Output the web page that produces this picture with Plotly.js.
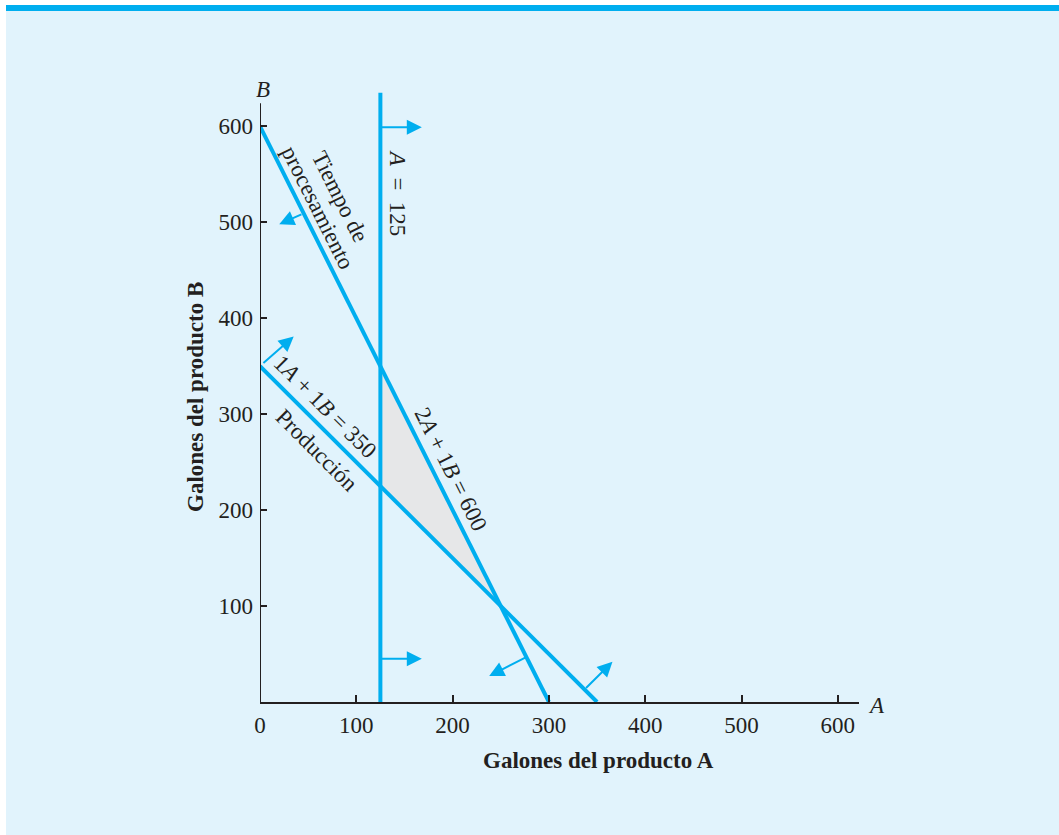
<!DOCTYPE html>
<html>
<head>
<meta charset="utf-8">
<script src="https://cdn.plot.ly/plotly-3.0.1.min.js"></script>
<style>
  html, body { margin: 0; padding: 0; background: #ffffff; }
  #chart { width: 1059px; height: 835px; }
</style>
</head>
<body>
<div id="chart"></div>
<script>
// ---- Data ----
// Processing-time constraint: 2A + 1B = 600
const procCoef = [2, 1];
const procRHS = 600;
// Production constraint: 1A + 1B = 350
const prodCoef = [1, 1];
const prodRHS = 350;
// Minimum of product A: A = 125
const minA = 125;
const minALineTop = 635;

// Constraint direction arrows (tail -> head), in data units
const arrowTailX = [125, 125, 44.6, 277, 2, 337];
const arrowTailY = [599, 45, 509, 47, 352, 13];
const arrowHeadX = [168, 168, 20, 238, 35, 366];
const arrowHeadY = [599, 45, 498, 27, 381, 42];

// Tick labels
const xTicks = [0, 100, 200, 300, 400, 500, 600];
const yTicks = [100, 200, 300, 400, 500, 600];

// ---- Derived geometry ----
function intercepts(coef, rhs) {
  return { x: [0, rhs / coef[0]], y: [rhs / coef[1], 0] };
}
const procLine = intercepts(procCoef, procRHS);
const prodLine = intercepts(prodCoef, prodRHS);

// feasible region vertices
const vTopB = (procRHS - procCoef[0] * minA) / procCoef[1];
const vBotB = (prodRHS - prodCoef[0] * minA) / prodCoef[1];
const det = procCoef[0] * prodCoef[1] - procCoef[1] * prodCoef[0];
const interA = (procRHS * prodCoef[1] - procCoef[1] * prodRHS) / det;
const interB = (procCoef[0] * prodRHS - prodCoef[0] * procRHS) / det;

const lineColor = '#00AEEF';
const serif = 'Liberation Serif, Times New Roman, serif';
const textColor = '#231F20';

const traces = [
  {
    x: [minA, interA, minA, minA],
    y: [vTopB, interB, vBotB, vTopB],
    mode: 'lines', fill: 'toself', fillcolor: '#E6E7E8',
    line: { width: 0, color: 'rgba(0,0,0,0)' }, hoverinfo: 'skip'
  },
  { x: procLine.x, y: procLine.y, mode: 'lines', line: { color: lineColor, width: 4 } },
  { x: prodLine.x, y: prodLine.y, mode: 'lines', line: { color: lineColor, width: 4 } },
  { x: [minA, minA], y: [0, minALineTop], mode: 'lines', line: { color: lineColor, width: 4 } }
];

const annotations = [];
for (let i = 0; i < arrowTailX.length; i++) {
  annotations.push({
    x: arrowHeadX[i], y: arrowHeadY[i], xref: 'x', yref: 'y',
    ax: arrowTailX[i], ay: arrowTailY[i], axref: 'x', ayref: 'y',
    text: '', showarrow: true, arrowhead: 2, arrowsize: 1.5,
    arrowwidth: 2, arrowcolor: lineColor, standoff: 0, startstandoff: 0
  });
}
const lblFont = { family: serif, size: 23, color: textColor };
annotations.push(
  { x: 83, y: 527, xref: 'x', yref: 'y', text: 'Tiempo de', textangle: 63.4,
    showarrow: false, font: lblFont, xanchor: 'center', yanchor: 'middle' },
  { x: 60, y: 515.5, xref: 'x', yref: 'y', text: 'procesamiento', textangle: 63.4,
    showarrow: false, font: lblFont, xanchor: 'center', yanchor: 'middle' },
  { x: 143, y: 530, xref: 'x', yref: 'y', text: '<i>A</i>  =  125', textangle: 90,
    showarrow: false, font: lblFont, xanchor: 'center', yanchor: 'middle' },
  { x: 198, y: 242, xref: 'x', yref: 'y', text: '2<i>A</i> + 1<i>B</i> = 600', textangle: 63.4,
    showarrow: false, font: lblFont, xanchor: 'center', yanchor: 'middle' },
  { x: 67.5, y: 308, xref: 'x', yref: 'y', text: '1<i>A</i> + 1<i>B</i> = 350', textangle: 45,
    showarrow: false, font: lblFont, xanchor: 'center', yanchor: 'middle' },
  { x: 59, y: 262, xref: 'x', yref: 'y', text: 'Producción', textangle: 45,
    showarrow: false, font: lblFont, xanchor: 'center', yanchor: 'middle' },
  // axis end letters
  { x: 876, y: 705, xref: 'paper', yref: 'paper', text: '<i>A</i>', showarrow: false, font: lblFont },
  { x: 263, y: 89, xref: 'paper', yref: 'paper', text: '<i>B</i>', showarrow: false, font: lblFont },
  // axis titles
  { x: 598, y: 760, xref: 'paper', yref: 'paper', text: '<b>Galones del producto A</b>', showarrow: false,
    font: { family: serif, size: 23, color: textColor } },
  { x: 195, y: 397, xref: 'paper', yref: 'paper', text: '<b>Galones del producto B</b>', textangle: -90,
    showarrow: false, font: { family: serif, size: 23, color: textColor } }
);

// convert pixel-placed paper annotations to paper coordinates
const L = 260, R = 200, T = 88, B = 133, W = 1059, H = 835;
const pw = W - L - R, ph = H - T - B;
annotations.forEach(a => {
  if (a.xref === 'paper') {
    a.x = (a.x - L) / pw;
    a.y = (H - B - a.y) / ph;
    a.xanchor = 'center';
    a.yanchor = 'middle';
  }
});
function px2paperX(p) { return (p - L) / pw; }
function px2paperY(q) { return (H - B - q) / ph; }

const shapes = [
  // y axis line
  { type: 'line', xref: 'x', yref: 'y', x0: 0, x1: 0, y0: 0, y1: 624, line: { color: textColor, width: 2 } },
  // white page border (left and top)
  { type: 'rect', xref: 'paper', yref: 'paper', x0: px2paperX(0), x1: px2paperX(6), y0: px2paperY(H), y1: px2paperY(0),
    fillcolor: '#ffffff', line: { width: 0 } },
  { type: 'rect', xref: 'paper', yref: 'paper', x0: px2paperX(0), x1: px2paperX(W), y0: px2paperY(5), y1: px2paperY(0),
    fillcolor: '#ffffff', line: { width: 0 } },
  // blue top bar
  { type: 'rect', xref: 'paper', yref: 'paper', x0: px2paperX(6), x1: px2paperX(W), y0: px2paperY(11), y1: px2paperY(5),
    fillcolor: '#00AEEF', line: { width: 0 } }
];

const layout = {
  width: W, height: H,
  margin: { l: L, r: R, t: T, b: B, pad: 0 },
  paper_bgcolor: '#E1F3FC', plot_bgcolor: 'rgba(0,0,0,0)',
  showlegend: false,
  font: { family: serif, size: 23, color: textColor },
  xaxis: {
    range: [0, 622], showgrid: false, zeroline: false,
    showline: true, linecolor: textColor, linewidth: 2,
    tickmode: 'array', tickvals: xTicks, ticktext: xTicks.map(String),
    ticks: 'inside', ticklen: 7, tickwidth: 2, tickcolor: textColor,
    tickfont: { family: serif, size: 23, color: textColor }, ticklabelstandoff: 1
  },
  yaxis: {
    range: [0, 640], showgrid: false, zeroline: false, showline: false,
    tickmode: 'array', tickvals: yTicks, ticktext: yTicks.map(String),
    ticks: 'inside', ticklen: 7, tickwidth: 2, tickcolor: textColor,
    tickfont: { family: serif, size: 23, color: textColor }, ticklabelstandoff: 6
  },
  annotations: annotations,
  shapes: shapes
};

Plotly.newPlot('chart', traces, layout, { displayModeBar: false, staticPlot: true });
</script>
</body>
</html>
